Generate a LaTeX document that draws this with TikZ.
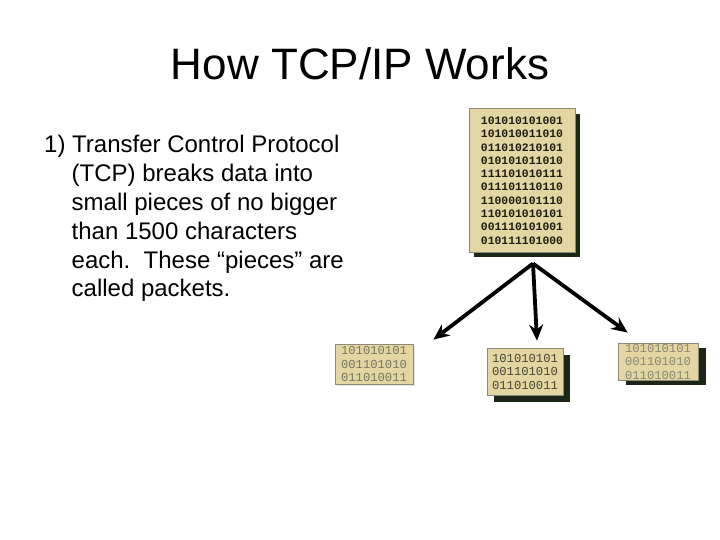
\documentclass[tikz,border=0pt]{standalone}
\usepackage{fontspec}
\setmainfont{Liberation Sans}
\newfontfamily\bitsfont{Liberation Mono}
\usetikzlibrary{arrows.meta, positioning, calc, shadows}
\definecolor{paper}{HTML}{E4D6A2}
\definecolor{edge}{HTML}{8C8A78}
\definecolor{darkshade}{HTML}{1B2617}
\definecolor{inkdark}{HTML}{1E1E12}
\definecolor{inkolive}{HTML}{55543C}

\begin{document}
\begin{tikzpicture}[
  x=1pt, y=-1pt,
  >={Stealth[length=16pt, width=14pt]},
  bigdoc/.style={
    draw=edge, line width=1pt, fill=paper, inner sep=0pt,
    minimum width=106pt, minimum height=143pt, align=left,
    font=\bitsfont\bfseries\fontsize{11.4}{13.3}\selectfont, text=inkdark,
    drop shadow={shadow xshift=5pt, shadow yshift=-5pt, fill=darkshade, opacity=1}
  },
  packet/.style={
    draw=edge, line width=0.8pt, fill=paper, inner sep=0pt, align=left,
    font=\bitsfont\fontsize{12.2}{13.5}\selectfont, text=inkolive
  },
  pshadow/.style 2 args={
    drop shadow={shadow xshift=#1, shadow yshift=-#2, fill=darkshade, opacity=1}
  },
  splitarr/.style={->, line width=3.8pt, black},
]

% Background
\fill[white] (0,0) rectangle (720,540);
\useasboundingbox (0,0) rectangle (720,540);

% Title
\node[anchor=base, font=\fontsize{44}{53}\selectfont] (title) at (360,80)
  {How TCP/IP Works};

% =============================================
% Left: explanation text
% =============================================
\node[anchor=base west, inner sep=0pt] (point) at (44,153)
  {\parbox[t]{320pt}{\fontsize{24}{28.8}\selectfont\raggedright
   \hangindent=27.5pt\hangafter=1
   1) Transfer Control Protocol\newline
   (TCP) breaks data into\newline
   small pieces of no bigger\newline
   than 1500 characters\newline
   each.\ \ These “pieces” are\newline
   called packets.}};

% =============================================
% Right: whole message and its packets
% =============================================
\node[bigdoc] (doc) at (522,180.5)
  {101010101001\\
   101010011010\\
   011010210101\\
   010101011010\\
   111101010111\\
   011101110110\\
   110000101110\\
   110101010101\\
   001110101001\\
   010111101000};

\node[packet, minimum width=78pt, minimum height=40pt, text=inkolive!80,
      drop shadow={shadow xshift=2pt, shadow yshift=-2pt, fill=gray!20, opacity=1}]
  (pkta) at (374,364) {101010101\\001101010\\011010011};
\node[packet, pshadow={7pt}{7pt}, minimum width=76pt, minimum height=47pt,
      text=inkolive!85!black]
  (pktb) at (525,371.5) {101010101\\001101010\\011010011};
\node[packet, pshadow={8pt}{5pt}, minimum width=80pt, minimum height=37pt,
      text=inkolive!70]
  (pktc) at (658,361.5) {101010101\\001101010\\011010011};

% =============================================
% Arrows splitting the message
% =============================================
\coordinate (split) at ($(doc.south)+(11,11)$);
\coordinate (tipa) at ($(pkta.north east)+(20,-4)$);
\coordinate (tipb) at ($(pktb.north)+(12,-7)$);
\coordinate (tipc) at ($(pktc.north west)+(10,-10)$);

\draw[splitarr] (split) -- (tipa);
\draw[splitarr] (split) -- (tipb);
\draw[splitarr] (split) -- (tipc);

\end{tikzpicture}
\end{document}
